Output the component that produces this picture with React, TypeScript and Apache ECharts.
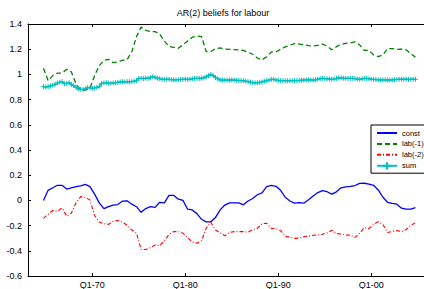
import React, { useEffect, useRef } from "react";
import * as echarts from "echarts";

// Semi-annual observations from 1964 Q4 to 2004 Q4
const halfYearStart = 1964.75;
const constVals = [
  0.0, 0.08, 0.1, 0.12, 0.12, 0.09, 0.1, 0.11, 0.115, 0.127,
  0.11, 0.05, -0.02, -0.065, -0.05, -0.037, -0.033, -0.005, -0.003, -0.03,
  -0.05, -0.095, -0.065, -0.05, -0.055, -0.015, -0.02, 0.04, 0.04, 0.01,
  0.0, -0.07, -0.076, -0.105, -0.15, -0.17, -0.17, -0.135, -0.075, -0.037,
  -0.02, -0.02, -0.02, -0.035, -0.005, 0.015, 0.045, 0.06, 0.109, 0.12,
  0.112, 0.08, 0.025, -0.005, -0.022, -0.018, -0.022, 0.005, 0.035, 0.062,
  0.078, 0.069, 0.05, 0.068, 0.1, 0.107, 0.111, 0.118, 0.135, 0.136,
  0.13, 0.12, 0.083, 0.025, -0.015, -0.023, -0.03, -0.062, -0.07, -0.07,
  -0.058,
];
const lab1Vals = [
  1.048, 0.95, 0.99, 1.01, 1.01, 1.04, 1.02, 0.925, 0.876, 0.876,
  0.89, 0.99, 1.07, 1.11, 1.12, 1.093, 1.1, 1.112, 1.118, 1.18,
  1.3, 1.375, 1.35, 1.339, 1.339, 1.32, 1.265, 1.222, 1.215, 1.207,
  1.235, 1.265, 1.295, 1.305, 1.3, 1.18, 1.182, 1.205, 1.21, 1.2,
  1.199, 1.197, 1.194, 1.19, 1.175, 1.16, 1.13, 1.115, 1.14, 1.178,
  1.178, 1.2, 1.218, 1.232, 1.245, 1.241, 1.235, 1.228, 1.225, 1.23,
  1.24, 1.225, 1.196, 1.22, 1.238, 1.246, 1.25, 1.258, 1.235, 1.19,
  1.19, 1.155, 1.141, 1.155, 1.205, 1.205, 1.199, 1.2, 1.195, 1.165,
  1.136,
];
const lab2Vals = [
  -0.142, -0.11, -0.08, -0.085, -0.06, -0.125, -0.1, -0.02, 0.03, 0.023,
  0.003, -0.12, -0.172, -0.185, -0.19, -0.165, -0.16, -0.172, -0.197, -0.235,
  -0.26, -0.39, -0.39, -0.375, -0.354, -0.36, -0.32, -0.27, -0.248, -0.248,
  -0.26, -0.295, -0.33, -0.34, -0.32, -0.22, -0.175, -0.235, -0.258, -0.28,
  -0.255, -0.248, -0.248, -0.248, -0.252, -0.232, -0.222, -0.185, -0.182, -0.222,
  -0.224, -0.24, -0.285, -0.292, -0.301, -0.299, -0.288, -0.284, -0.277, -0.275,
  -0.268, -0.258, -0.237, -0.262, -0.268, -0.275, -0.276, -0.293, -0.26, -0.216,
  -0.224, -0.19, -0.169, -0.19, -0.255, -0.247, -0.24, -0.248, -0.232, -0.198,
  -0.177,
];
// Quarterly observations from 1964 Q4 to 2004 Q4
const quarterStart = 1964.75;
const sumVals = [
  0.902, 0.9, 0.903, 0.908, 0.914, 0.922, 0.932, 0.938, 0.942, 0.926,
  0.928, 0.934, 0.918, 0.91, 0.898, 0.884, 0.882, 0.88, 0.886, 0.896,
  0.893, 0.889, 0.892, 0.897, 0.905, 0.928, 0.932, 0.935, 0.93, 0.928,
  0.932, 0.934, 0.936, 0.94, 0.942, 0.94, 0.943, 0.941, 0.943, 0.946,
  0.95, 0.968, 0.969, 0.967, 0.97, 0.968, 0.975, 0.982, 0.976, 0.97,
  0.966, 0.962, 0.96, 0.962, 0.961, 0.959, 0.957, 0.956, 0.958, 0.96,
  0.961, 0.962, 0.96, 0.962, 0.965, 0.968, 0.969, 0.968, 0.97, 0.972,
  0.982, 0.99, 1.0, 0.99, 0.975, 0.965, 0.956, 0.955, 0.955, 0.954,
  0.955, 0.956, 0.955, 0.953, 0.952, 0.95, 0.95, 0.946, 0.942, 0.938,
  0.934, 0.933, 0.934, 0.935, 0.94, 0.946, 0.95, 0.955, 0.96, 0.961,
  0.956, 0.951, 0.95, 0.951, 0.95, 0.949, 0.95, 0.951, 0.95, 0.951,
  0.952, 0.954, 0.955, 0.956, 0.957, 0.956, 0.955, 0.957, 0.962, 0.966,
  0.969, 0.967, 0.965, 0.963, 0.961, 0.963, 0.968, 0.973, 0.972, 0.97,
  0.969, 0.968, 0.969, 0.969, 0.966, 0.963, 0.961, 0.964, 0.968, 0.968,
  0.965, 0.962, 0.961, 0.959, 0.957, 0.956, 0.956, 0.957, 0.956, 0.955,
  0.956, 0.958, 0.96, 0.961, 0.962, 0.961, 0.962, 0.96, 0.961, 0.962,
  0.961,
];
const xTickYears = [1970, 1980, 1990, 2000];
const seriesNames = ["const", "lab(-1)", "lab(-2)", "sum"];
const titleText = "AR(2) beliefs for labour";

const FONT = '"Liberation Sans", Arial, Helvetica, sans-serif';

export default function App() {
  const ref = useRef<HTMLDivElement>(null);
  useEffect(() => {
    if (!ref.current) return;
    const chart = echarts.init(ref.current, undefined, { renderer: "svg" });
    const half = (vals: number[]) => vals.map((v, i) => [halfYearStart + i * 0.5, v]);
    const quarter = (vals: number[]) => vals.map((v, i) => [quarterStart + i * 0.25, v]);
    const xMin = 1963.086;
    const xMax = 2005.67;
    const xAxisBase = {
      type: "value",
      min: xMin,
      max: xMax,
      axisLine: { show: true, onZero: false, lineStyle: { color: "#000", width: 1 } },
      axisTick: {
        show: true,
        inside: true,
        length: 3,
        customValues: xTickYears,
        lineStyle: { color: "#000" },
      },
      splitLine: { show: false },
    };
    chart.setOption({
      animation: false,
      backgroundColor: "#fff",
      textStyle: { fontFamily: FONT },
      grid: { left: 28, top: 24, right: 0, bottom: 13, containLabel: false },
      graphic: [
        {
          type: "text",
          x: 223,
          y: 13,
          style: {
            text: titleText,
            fontSize: 9,
            fontFamily: FONT,
            fill: "#000",
            align: "center",
            verticalAlign: "middle",
          },
        },
      ],
      legend: {
        orient: "vertical",
        left: 371,
        top: 125,
        data: seriesNames.map((name, i) =>
          i < 3 ? { name, itemStyle: { opacity: 0 } } : { name }
        ),
        itemWidth: 20,
        itemHeight: 9,
        itemGap: 1.9,
        padding: [3.5, 1, 2.8, 5],
        borderColor: "#000",
        borderWidth: 1,
        backgroundColor: "#fff",
        borderRadius: 0,
        textStyle: { fontSize: 7.5, lineHeight: 9, color: "#000", fontFamily: FONT },
      },
      xAxis: [
        {
          ...xAxisBase,
          position: "bottom",
          axisLabel: {
            show: true,
            customValues: xTickYears,
            margin: 4,
            fontSize: 9,
            color: "#000",
            fontFamily: FONT,
            formatter: (v: number) => "Q1-" + String(Math.round(v)).slice(2),
          },
        },
        {
          ...xAxisBase,
          position: "top",
          axisLabel: { show: false },
        },
      ],
      yAxis: {
        type: "value",
        min: -0.6,
        max: 1.4,
        interval: 0.2,
        axisLine: { show: true, onZero: false, lineStyle: { color: "#000", width: 1 } },
        axisTick: { show: true, inside: true, length: 3, lineStyle: { color: "#000" } },
        axisLabel: {
          margin: 6,
          fontSize: 9,
          color: "#000",
          fontFamily: FONT,
          formatter: (v: number) => String(Math.round(v * 10) / 10),
        },
        splitLine: { show: false },
      },
      series: [
        {
          name: seriesNames[0],
          type: "line",
          data: half(constVals),
          symbol: "none",
          lineStyle: { color: "#0000FF", width: 1.3 },
          itemStyle: { color: "#0000FF" },
        },
        {
          name: seriesNames[1],
          type: "line",
          data: half(lab1Vals),
          symbol: "none",
          lineStyle: { color: "#008000", width: 1.3, type: [5, 3] },
          itemStyle: { color: "#008000" },
        },
        {
          name: seriesNames[2],
          type: "line",
          data: half(lab2Vals),
          symbol: "none",
          lineStyle: { color: "#FF0000", width: 1.1, type: [4, 2, 1, 2] },
          itemStyle: { color: "#FF0000" },
        },
        {
          name: seriesNames[3],
          type: "line",
          data: quarter(sumVals),
          symbol: "path://M0,5L10,5M5,0L5,10",
          symbolSize: 5,
          showSymbol: true,
          lineStyle: { color: "#00BFBF", width: 1.2 },
          itemStyle: { color: "#00BFBF", borderColor: "#00BFBF", borderWidth: 1 },
        },
      ],
    });
    return () => chart.dispose();
  }, []);
  return (
    <div
      ref={ref}
      style={{ position: "fixed", left: 0, top: 0, width: 424, height: 289, background: "#fff" }}
    />
  );
}
